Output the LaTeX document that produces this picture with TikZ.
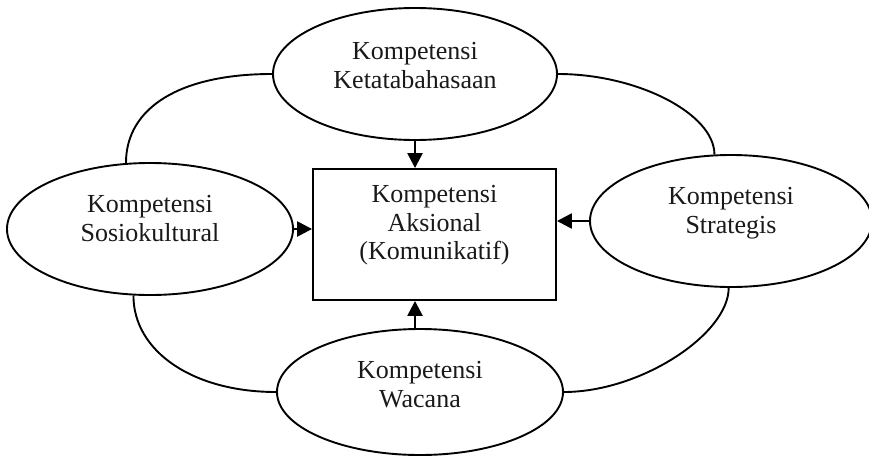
\documentclass[tikz,border=0pt]{standalone}
\usepackage{fontspec}
\setmainfont{Liberation Serif}
\usetikzlibrary{shapes.geometric,arrows.meta}
\begin{document}
\begin{tikzpicture}[x=1pt,y=-1pt,
  comp/.style={draw,ellipse,inner sep=0pt,line width=1.9pt,minimum width=285pt,minimum height=132pt},
  centerbox/.style={draw,rectangle,inner sep=0pt,line width=1.9pt,minimum width=243pt,minimum height=131pt},
  lbl/.style={anchor=north,align=center,inner sep=0pt,font=\fontsize{26}{28.5}\selectfont,text=black!90},
  link/.style={line width=1.9pt},
  feed/.style={line width=2.5pt,-{Triangle[length=15pt 0,width=15pt 0]}}]
\useasboundingbox (0,0) rectangle (869,458);

% competence ellipses
\node[comp,minimum width=284pt] (kt) at (415,74) {};
\node[comp,minimum width=286pt] (sk) at (150,229) {};
\node[comp,minimum width=282pt] (st) at (731,221) {};
\node[comp,minimum width=286pt,minimum height=126pt] (wc) at (420,392) {};
% central box
\node[centerbox] (ak) at (434.5,234.5) {};

% labels
\node[lbl,yshift=31.8pt] (ktl) at (kt.center) {Kompetensi\\Ketatabahasaan};
\node[lbl,yshift=33.8pt] (skl) at (sk.center) {Kompetensi\\Sosiokultural};
\node[lbl,yshift=33.8pt] (stl) at (st.center) {Kompetensi\\Strategis};
\node[lbl,yshift=30.8pt] (wcl) at (wc.center) {Kompetensi\\Wacana};
\node[lbl,yshift=49.3pt] (akl) at (ak.center) {Kompetensi\\Aksional\\(Komunikatif)};

% outer ring linking the ellipses
\draw[link] (sk.110) .. controls +(0,-56) and +(-91,0) .. (kt.west);
\draw[link] (kt.east) .. controls +(79,0) and +(0,-41) .. (st.104);
\draw[link] (sk.256) .. controls +(0,56) and +(-83,0) .. (wc.west);
\draw[link] (st.268) .. controls +(0,46) and +(77,0) .. (wc.east);

% arrows into the centre
\draw[feed] (kt.south) -- (kt.south |- ak.north);
\draw[feed] (kt.south |- wc.north) -- (kt.south |- ak.south);
\draw[feed] (sk.east) -- (sk.east -| ak.west);
\draw[feed] (st.west) -- (st.west -| ak.east);
\end{tikzpicture}
\end{document}
